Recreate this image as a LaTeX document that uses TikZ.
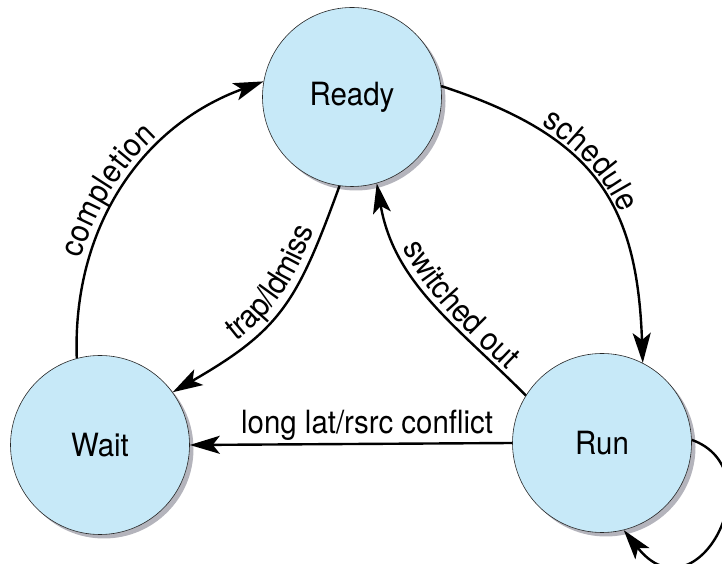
\documentclass[tikz,border=0pt]{standalone}
\usepackage{fontspec}
\setmainfont[FakeStretch=0.92]{TeX Gyre Heros}
\usetikzlibrary{arrows.meta,shadows,decorations.text}
\definecolor{statefill}{RGB}{199,233,248}
\definecolor{stateshade}{RGB}{180,180,188}
\newcommand\lblfont{\fontsize{32}{38}\selectfont}
\tikzset{
	state/.style={circle, draw=black!85, line width=0.6pt, fill=statefill, minimum size=179pt, inner sep=0pt,
		font=\lblfont,
		drop shadow={shadow xshift=4pt, shadow yshift=-4pt, fill=stateshade, opacity=1}},
	trans/.style={line width=2.4pt, -{Stealth[length=30pt,width=18pt,inset=7pt]}},
	along/.style 2 args={postaction={decorate, decoration={text along path, text align=center, raise=5pt,
		text={|\lblfont|#1}, #2}}},
	lbl/.style={font=\lblfont, inner sep=2pt}
}

\begin{document}
\begin{tikzpicture}[x=1pt,y=1pt]
			%%%%% START %%%%%
			\useasboundingbox (0,0) rectangle (722,564);
			
			\node[state] (ready) at (352,467) {Ready};
			\node[state] (wait) at (100,119) {Wait};
			\node[state] (run) at (602,121) {Run};
			
			\draw[trans, along={completion}{raise=8pt, text align/right indent=20pt}] (wait.105) to[out=92, in=200] (ready.170);
			\draw[trans, along={schedule}{text align/right indent=44pt}] (ready.7) to[out=-18, in=92, looseness=1.2] (run.63);
			\draw[trans, along={trap/ldmiss}{raise=8pt, reverse path, text align/left indent=32pt}] (ready.262) to[out=250, in=30, looseness=1.2] (wait.36);
			\draw[trans, along={switched out}{reverse path, text align/left indent=40pt}] (run.148) to[out=135, in=-80] (ready.286);
			\draw[trans] (run.west) -- node[lbl, above, pos=0.45] {long lat/rsrc conflict} (wait.east);
			
			\draw[trans] (run.2) .. controls +(84,-30) and +(73,-92) .. (run.-76);
			
			%%%%% END %%%%%
\end{tikzpicture}
\end{document}
